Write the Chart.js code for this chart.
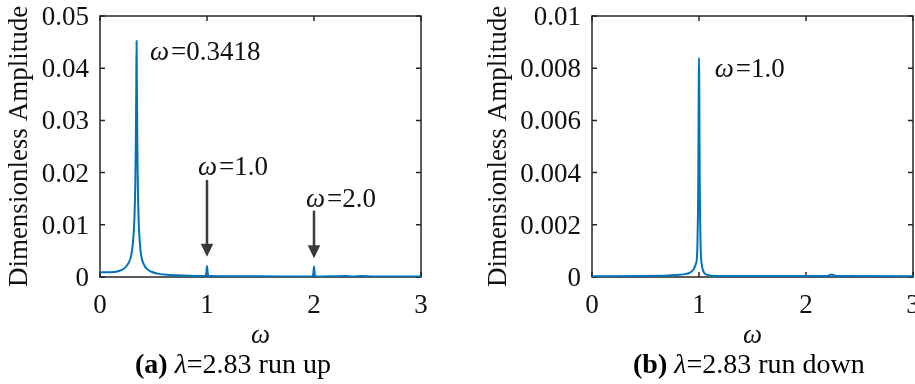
<!DOCTYPE html>
<html>
<head>
<meta charset="utf-8">
<script src="https://cdn.jsdelivr.net/npm/chart.js@4"></script>
<style>
  html, body { margin: 0; padding: 0; background: #fff; overflow: hidden; width: 915px; height: 384px; }
  #wrap { position: relative; width: 915px; height: 384px; overflow: hidden; }
  .panel { position: absolute; top: 0; height: 384px; }
  #pa { left: 0; width: 460px; }
  #pb { left: 460px; width: 480px; }
  .cap { position: absolute; top: 350px; font-family: "Liberation Serif", "Times New Roman", serif;
         font-size: 28px; line-height: 28px; white-space: nowrap; color: #000; }
</style>
</head>
<body>
<div id="wrap">
  <div class="panel" id="pa"><canvas id="ca" width="460" height="384"></canvas></div>
  <div class="panel" id="pb"><canvas id="cb" width="480" height="384"></canvas></div>
  <div class="cap" style="left:135px"><b>(a)</b> <i>λ</i>=2.83 run up</div>
  <div class="cap" style="left:633px"><b>(b)</b> <i>λ</i>=2.83 run down</div>
</div>
<script>
// Amplitude spectrum, run up (λ = 2.83)
const omegaRunUp = [0, 0.1, 0.17, 0.23, 0.27, 0.29, 0.305, 0.315, 0.323, 0.33, 0.335, 0.339, 0.3418,
  0.345, 0.349, 0.354, 0.36, 0.368, 0.378, 0.39, 0.41, 0.44, 0.48, 0.55, 0.65, 0.75, 0.9, 0.98,
  0.993, 1.0, 1.007, 1.02, 1.3, 1.7, 1.98, 1.993, 2.0, 2.007, 2.02, 2.3, 2.35, 2.45, 2.55, 3.0];
const ampRunUp = [0.0009, 0.0009, 0.0011, 0.0017, 0.0028, 0.0040, 0.0060, 0.0085, 0.0120, 0.0180, 0.0260, 0.0370, 0.0452,
  0.0360, 0.0250, 0.0170, 0.0115, 0.0078, 0.0052, 0.0036, 0.0024, 0.0015, 0.0010, 0.0006, 0.0004, 0.0003, 0.0002, 0.0002,
  0.0007, 0.0021, 0.0007, 0.0002, 0.00015, 0.0001, 0.0001, 0.0006, 0.0020, 0.0006, 0.0001, 0.0002, 0.0001, 0.0002, 0.0001, 0.0001];

// Amplitude spectrum, run down (λ = 2.83)
const omegaRunDown = [0, 0.5, 0.8, 0.85, 0.92, 0.95, 0.97, 0.98, 0.985, 0.99, 0.993, 0.996, 0.998, 1.0,
  1.002, 1.004, 1.007, 1.01, 1.015, 1.02, 1.03, 1.05, 1.08, 1.15, 1.5, 2.2, 2.24, 2.28, 3.0];
const ampRunDown = [0.00003, 0.00004, 0.00008, 0.00010, 0.00018, 0.00030, 0.00050, 0.00070, 0.00120, 0.00230, 0.00360, 0.00590, 0.00760, 0.00840,
  0.00760, 0.00590, 0.00360, 0.00230, 0.00120, 0.00070, 0.00037, 0.00015, 0.00008, 0.00004, 0.00004, 0.00004, 0.00010, 0.00004, 0.00003];

// Axis ticks
const xTickValues = [0, 1, 2, 3];
const xTickLabels = ['0', '1', '2', '3'];
const yTickValuesUp = [0, 0.01, 0.02, 0.03, 0.04, 0.05];
const yTickLabelsUp = ['0', '0.01', '0.02', '0.03', '0.04', '0.05'];
const yTickValuesDown = [0, 0.002, 0.004, 0.006, 0.008, 0.01];
const yTickLabelsDown = ['0', '0.002', '0.004', '0.006', '0.008', '0.01'];

// Peak labels (ω, amplitude of the text's left-middle point) and arrows
const labelsRunUp = [
  { w: 0.467, a: 0.0429, value: '0.3418' },
  { w: 0.916, a: 0.0209, value: '1.0' },
  { w: 1.925, a: 0.0148, value: '2.0' }
];
const arrowsRunUp = [
  { w: 1.0, from: 0.0186, to: 0.0039 },
  { w: 2.0, from: 0.0127, to: 0.0036 }
];
const labelsRunDown = [
  { w: 1.147, a: 0.00792, value: '1.0' }
];
const arrowsRunDown = [];

const FAMILY = '"Liberation Serif", "Times New Roman", serif';
const FONT = { family: FAMILY, size: 27 };
const FRAME = '#262626';
const TEXT = '#111';

// Box around the axes with inward ticks on all four sides
const framePlugin = {
  id: 'frame',
  beforeDatasetsDraw(chart) {
    const { ctx, chartArea: ca, scales } = chart;
    ctx.save();
    ctx.strokeStyle = FRAME;
    ctx.lineWidth = 1.5;
    ctx.strokeRect(ca.left, ca.top, ca.right - ca.left, ca.bottom - ca.top);
    const len = 5;
    ctx.beginPath();
    scales.x.ticks.forEach(t => {
      const px = scales.x.getPixelForValue(t.value);
      ctx.moveTo(px, ca.bottom); ctx.lineTo(px, ca.bottom - len);
      ctx.moveTo(px, ca.top); ctx.lineTo(px, ca.top + len);
    });
    scales.y.ticks.forEach(t => {
      const py = scales.y.getPixelForValue(t.value);
      ctx.moveTo(ca.left, py); ctx.lineTo(ca.left + len, py);
      ctx.moveTo(ca.right, py); ctx.lineTo(ca.right - len, py);
    });
    ctx.stroke();
    ctx.restore();
  }
};

// Peak labels "ω=…" and arrows
const peakPlugin = {
  id: 'peaks',
  afterDraw(chart, args, opts) {
    const { ctx, scales: { x, y } } = chart;
    ctx.save();
    ctx.fillStyle = TEXT;
    ctx.textBaseline = 'middle';
    ctx.textAlign = 'left';
    (opts.labels || []).forEach(l => {
      const px = x.getPixelForValue(l.w);
      const py = y.getPixelForValue(l.a);
      ctx.font = 'italic 27px ' + FAMILY;
      ctx.fillText('ω', px, py);
      const w = ctx.measureText('ω').width;
      ctx.font = '27px ' + FAMILY;
      ctx.fillText('=' + l.value, px + w + 2, py);
    });
    (opts.arrows || []).forEach(a => {
      const px = x.getPixelForValue(a.w);
      const y0 = y.getPixelForValue(a.from);
      const y1 = y.getPixelForValue(a.to);
      const head = 13, half = 6.3;
      ctx.strokeStyle = '#3a3a3a';
      ctx.fillStyle = '#3a3a3a';
      ctx.lineWidth = 2.5;
      ctx.beginPath();
      ctx.moveTo(px, y0);
      ctx.lineTo(px, y1 - head + 1);
      ctx.stroke();
      ctx.beginPath();
      ctx.moveTo(px - half, y1 - head);
      ctx.lineTo(px + half, y1 - head);
      ctx.lineTo(px, y1);
      ctx.closePath();
      ctx.fill();
    });
    ctx.restore();
  }
};

function makeChart(id, omega, amp, yMax, yVals, yLabels, cfg) {
  return new Chart(document.getElementById(id), {
    type: 'line',
    data: {
      datasets: [{
        data: omega.map((w, i) => ({ x: w, y: amp[i] })),
        borderColor: '#0072BD',
        borderWidth: 2,
        pointRadius: 0,
        cubicInterpolationMode: 'monotone',
        fill: false
      }]
    },
    options: {
      responsive: false,
      animation: false,
      devicePixelRatio: 1,
      layout: { padding: { left: cfg.padLeft, right: cfg.padRight, top: 16, bottom: 32 } },
      plugins: {
        legend: { display: false },
        tooltip: { enabled: false },
        peaks: { labels: cfg.labels, arrows: cfg.arrows }
      },
      scales: {
        x: {
          type: 'linear', min: 0, max: 3,
          afterBuildTicks: s => { s.ticks = xTickValues.map(v => ({ value: v })); },
          afterFit: s => { s.height = 75; s.paddingLeft = 0; s.paddingRight = 0; },
          grid: { display: false, drawTicks: false },
          border: { display: false },
          ticks: { padding: 13, font: FONT, color: TEXT, maxRotation: 0,
                   callback: v => xTickLabels[xTickValues.indexOf(v)] },
          title: { display: true, text: 'ω', color: TEXT,
                   font: { family: FAMILY, size: 27, style: 'italic' },
                   padding: { top: 0, bottom: 0 } }
        },
        y: {
          type: 'linear', min: 0, max: yMax,
          afterBuildTicks: s => { s.ticks = yVals.map(v => ({ value: v })); },
          afterFit: s => { s.width = cfg.yWidth; s.paddingTop = 0; s.paddingBottom = 0; },
          grid: { display: false, drawTicks: false },
          border: { display: false },
          ticks: { padding: 11, labelOffset: 2, font: FONT, color: TEXT,
                   callback: v => yLabels[yVals.findIndex(t => Math.abs(t - v) < 1e-9)] },
          title: { display: true, text: 'Dimensionless Amplitude', color: TEXT, font: FONT,
                   padding: { top: 4, bottom: 4 } }
        }
      }
    },
    plugins: [framePlugin, peakPlugin]
  });
}

makeChart('ca', omegaRunUp, ampRunUp, 0.05, yTickValuesUp, yTickLabelsUp,
  { padLeft: 0, padRight: 39, yWidth: 100, labels: labelsRunUp, arrows: arrowsRunUp });
makeChart('cb', omegaRunDown, ampRunDown, 0.01, yTickValuesDown, yTickLabelsDown,
  { padLeft: 19, padRight: 27, yWidth: 113, labels: labelsRunDown, arrows: arrowsRunDown });
</script>
</body>
</html>
